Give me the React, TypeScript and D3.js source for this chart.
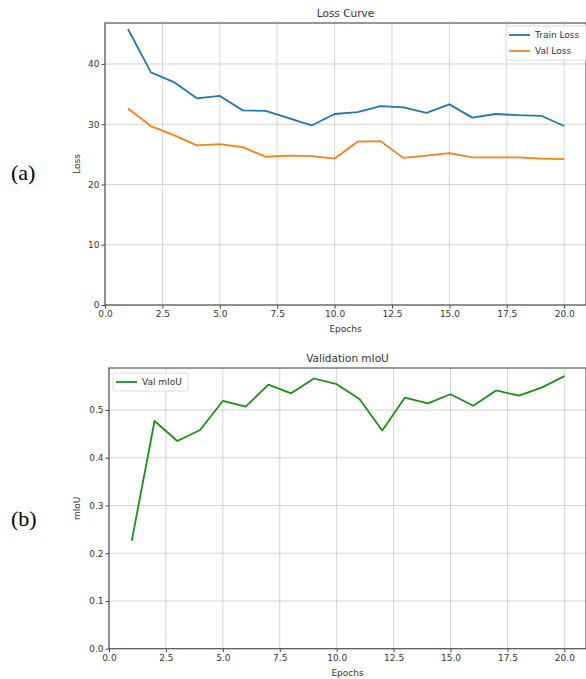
import React, { useEffect, useRef } from 'react';
import * as d3 from 'd3';

const epochs = [1, 2, 3, 4, 5, 6, 7, 8, 9, 10, 11, 12, 13, 14, 15, 16, 17, 18, 19, 20];
const trainLoss = [45.8, 38.6, 37.0, 34.3, 34.7, 32.3, 32.2, 31.0, 29.8, 31.7, 32.0, 33.0, 32.8, 31.9, 33.3, 31.1, 31.7, 31.5, 31.4, 29.7];
const valLoss = [32.6, 29.7, 28.2, 26.5, 26.7, 26.2, 24.6, 24.8, 24.7, 24.3, 27.1, 27.2, 24.4, 24.8, 25.2, 24.5, 24.5, 24.5, 24.3, 24.2];
const valMiou = [0.226, 0.477, 0.435, 0.458, 0.519, 0.507, 0.553, 0.535, 0.566, 0.554, 0.523, 0.457, 0.526, 0.514, 0.533, 0.509, 0.541, 0.53, 0.547, 0.571];
const xTicks = [0, 2.5, 5, 7.5, 10, 12.5, 15, 17.5, 20];
const lossTicks = [0, 10, 20, 30, 40];
const miouTicks = [0, 0.1, 0.2, 0.3, 0.4, 0.5];

const FONT = 'DejaVu Sans, sans-serif';

const App = () => {
  const ref = useRef<SVGSVGElement>(null);

  useEffect(() => {
    const svg = d3.select(ref.current);
    svg.selectAll('*').remove();

    const drawPanel = (opts: any) => {
      const { left, right, top, bottom, yMax, yTicks, yFmt, title, ylabel, series, legend } = opts;
      const g = svg.append('g');
      const clipId = 'clip' + Math.round(top);
      svg.append('clipPath').attr('id', clipId)
        .append('rect').attr('x', left).attr('y', top).attr('width', right - left).attr('height', bottom - top);

      const x = d3.scaleLinear().domain([0, 20.95]).range([left, right]);
      const y = d3.scaleLinear().domain([0, yMax]).range([bottom, top]);

      // grid
      g.selectAll('.vg').data(xTicks).enter().append('line')
        .attr('x1', d => x(d)).attr('x2', d => x(d)).attr('y1', top).attr('y2', bottom)
        .attr('stroke', '#b0b0b0').attr('stroke-opacity', 0.55).attr('stroke-width', 1);
      g.selectAll('.hg').data(yTicks).enter().append('line')
        .attr('x1', left).attr('x2', right).attr('y1', d => y(d)).attr('y2', d => y(d))
        .attr('stroke', '#b0b0b0').attr('stroke-opacity', 0.55).attr('stroke-width', 1);

      // lines
      series.forEach((s: any) => {
        const line = d3.line<number>().x((d, i) => x(epochs[i])).y(d => y(d));
        g.append('path').datum(s.values).attr('d', line)
          .attr('fill', 'none').attr('stroke', s.color).attr('stroke-width', 1.8)
          .attr('stroke-linejoin', 'round').attr('clip-path', `url(#${clipId})`);
      });

      // axes
      const xAxis = d3.axisBottom(x).tickValues(xTicks).tickFormat(d3.format('.1f')).tickSize(3.5).tickPadding(2);
      const yAxis = d3.axisLeft(y).tickValues(yTicks).tickFormat(yFmt).tickSize(3.5).tickPadding(2);
      const xg = g.append('g').attr('transform', `translate(0,${bottom})`).call(xAxis);
      const yg = g.append('g').attr('transform', `translate(${left},0)`).call(yAxis);
      [xg, yg].forEach(a => {
        a.select('.domain').remove();
        a.selectAll('line').attr('stroke', '#444');
        a.selectAll('text').attr('font-family', FONT).attr('font-size', 9).attr('fill', '#333');
      });

      // spines
      g.append('rect').attr('x', left).attr('y', top).attr('width', right - left).attr('height', bottom - top)
        .attr('fill', 'none').attr('stroke', '#555').attr('stroke-width', 1.2);

      g.append('text').attr('x', (left + right) / 2).attr('y', top - 6).attr('text-anchor', 'middle')
        .attr('font-family', FONT).attr('font-size', 10.5).attr('fill', '#333').text(title);
      g.append('text').attr('x', (left + right) / 2).attr('y', bottom + 27).attr('text-anchor', 'middle')
        .attr('font-family', FONT).attr('font-size', 9).attr('fill', '#333').text('Epochs');
      g.append('text').attr('transform', `translate(${legend.ylabelX},${(top + bottom) / 2}) rotate(-90)`)
        .attr('text-anchor', 'middle').attr('font-family', FONT).attr('font-size', 9).attr('fill', '#333').text(ylabel);

      // legend
      const lg = g.append('g');
      lg.append('rect').attr('x', legend.x).attr('y', legend.y).attr('width', legend.w).attr('height', legend.h)
        .attr('rx', 2).attr('fill', 'white').attr('fill-opacity', 0.8).attr('stroke', '#ddd');
      series.forEach((s: any, i: number) => {
        const cy = legend.y + 9 + i * 16;
        lg.append('line').attr('x1', legend.x + 3).attr('x2', legend.x + 24).attr('y1', cy).attr('y2', cy)
          .attr('stroke', s.color).attr('stroke-width', 1.8);
        lg.append('text').attr('x', legend.x + 29).attr('y', cy + 3).attr('font-family', FONT).attr('font-size', 9)
          .attr('fill', '#333').text(s.name);
      });
    };

    drawPanel({
      left: 105, right: 586, top: 23, bottom: 305, yMax: 46.8, yTicks: lossTicks, yFmt: d3.format('d'),
      title: 'Loss Curve', ylabel: 'Loss',
      series: [
        { name: 'Train Loss', values: trainLoss, color: '#1f77b4' },
        { name: 'Val Loss', values: valLoss, color: '#ff7f0e' },
      ],
      legend: { x: 506, y: 26, w: 84, h: 34, ylabelX: 80 },
    });

    drawPanel({
      left: 109, right: 586, top: 368, bottom: 648.7, yMax: 0.588, yTicks: miouTicks, yFmt: d3.format('.1f'),
      title: 'Validation mIoU', ylabel: 'mIoU',
      series: [{ name: 'Val mIoU', values: valMiou, color: '#1a8f1a' }],
      legend: { x: 113, y: 373, w: 75, h: 18, ylabelX: 80 },
    });

    svg.append('text').attr('x', 11).attr('y', 180).attr('font-family', 'Liberation Serif, serif').attr('font-size', 22).attr('fill', '#000').text('(a)');
    svg.append('text').attr('x', 11).attr('y', 526).attr('font-family', 'Liberation Serif, serif').attr('font-size', 22).attr('fill', '#000').text('(b)');

    return () => {
      svg.selectAll('*').remove();
    };
  }, []);

  return (
    <svg ref={ref} width={586} height={679} style={{ position: 'absolute', left: 0, top: 0, background: 'white' }} />
  );
};

export default App;
